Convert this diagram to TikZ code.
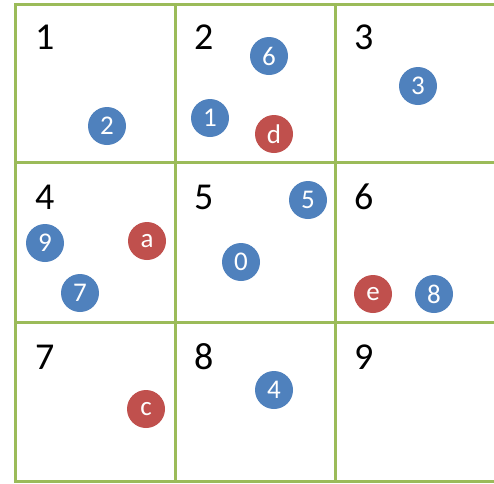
\documentclass[tikz,border=0pt]{standalone}
\usepackage{fontspec}
\setmainfont{Carlito}
\definecolor{gridgreen}{HTML}{9BBB59}
\definecolor{dotblue}{HTML}{4F81BD}
\definecolor{dotred}{HTML}{C0504D}
\tikzset{
  gridline/.style={draw=gridgreen, line width=3pt},
  celllabel/.style={anchor=base west, inner sep=0pt, font=\fontsize{38}{40}\selectfont},
  dot/.style={circle, minimum size=38pt, inner sep=0pt, text=white, font=\fontsize{27}{28}\selectfont},
  bdot/.style={dot, fill=dotblue},
  rdot/.style={dot, fill=dotred}
}
\begin{document}
\begin{tikzpicture}[x=1pt,y=-1pt]
\useasboundingbox (0,0) rectangle (494,483);
\fill[white] (0,0) rectangle (494,483);
% grid
\draw[gridline] (15,4) rectangle (495,481);
\draw[gridline] (175,4) -- (175,481);
\draw[gridline] (335,4) -- (335,481);
\draw[gridline] (15,162) -- (495,162);
\draw[gridline] (15,322) -- (495,322);
% cell labels
\node[celllabel] (l1) at (35,49) {1};
\node[celllabel] (l2) at (194,49) {2};
\node[celllabel] (l3) at (354,49) {3};
\node[celllabel] (l4) at (35,209) {4};
\node[celllabel] (l5) at (194,209) {5};
\node[celllabel] (l6) at (354,209) {6};
\node[celllabel] (l7) at (35,369) {7};
\node[celllabel] (l8) at (194,369) {8};
\node[celllabel] (l9) at (354,369) {9};
% points
\node[bdot] (p2) at (107,126) {2};
\node[bdot] (p6) at (269,56) {6};
\node[bdot] (p1) at (210,118) {1};
\node[rdot] (pd) at (274,134) {d};
\node[bdot] (p3) at (418,86) {3};
\node[bdot] (p5) at (308,200) {5};
\node[rdot] (pa) at (147,241) {a};
\node[bdot] (p9) at (45,243) {9};
\node[bdot] (p7) at (80,293) {7};
\node[bdot] (p0) at (241,262) {0};
\node[rdot] (pe) at (373,294) {e};
\node[bdot] (p8) at (434,294) {8};
\node[rdot] (pc) at (146,409) {c};
\node[bdot] (p4) at (274,390) {4};
\end{tikzpicture}
\end{document}
